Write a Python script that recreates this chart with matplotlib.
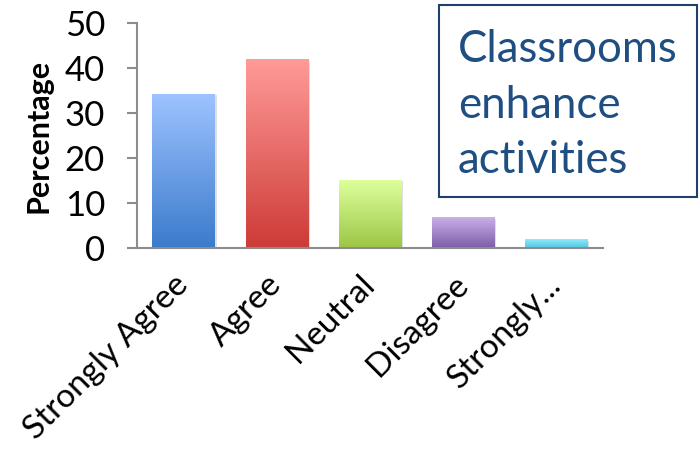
import numpy as np
import matplotlib
matplotlib.use("Agg")
import matplotlib.pyplot as plt
from matplotlib.colors import LinearSegmentedColormap
from matplotlib.patches import Rectangle
from matplotlib.transforms import ScaledTranslation

plt.rcParams['font.family'] = ['Lato', 'DejaVu Sans']

categories = ["Strongly Agree", "Agree", "Neutral", "Disagree", "Strongly..."]
values = [34.2, 41.8, 15.1, 6.7, 1.9]
y_ticks = [0, 10, 20, 30, 40, 50]
# (top colour, bottom colour) for each bar's vertical gradient
bar_colors = [("#9dc3ff", "#3b7bcc"),
              ("#ff9b98", "#cd3b37"),
              ("#ddff9c", "#9cc646"),
              ("#c9b1ea", "#7c5ca8"),
              ("#92e8f8", "#4cc6e6")]
title_text = "Classrooms\nenhance\nactivities"

fig = plt.figure(figsize=(7.0, 4.63), dpi=100)
ax = fig.add_axes([137/700, 1 - 248/463, 466/700, 225/463])

x = np.arange(len(categories))
width = 0.67
bars = ax.bar(x, values, width=width, color="none", edgecolor="none", zorder=2)

grad = np.linspace(0, 1, 256).reshape(-1, 1)
for rect, (top, bottom) in zip(bars, bar_colors):
    x0, y0 = rect.get_x(), rect.get_y()
    w, h = rect.get_width(), rect.get_height()
    cmap = LinearSegmentedColormap.from_list("g", [bottom, top])
    # soft drop shadow under each bar
    ax.add_patch(Rectangle((x0 + 0.02, y0), w, h - 0.3, facecolor="#000000",
                           alpha=0.12, edgecolor="none", zorder=1.5))
    ax.imshow(grad, cmap=cmap, origin="lower", aspect="auto",
              extent=(x0, x0 + w, y0, y0 + h), zorder=2)

ax.set_xlim(-0.5, len(categories) - 0.5)
ax.set_ylim(0, 50)
ax.set_yticks(y_ticks)
ax.set_yticklabels([str(t) for t in y_ticks], fontsize=25)
ax.set_xticks(x)
ax.set_xticklabels(categories, fontsize=24, rotation=45, ha="right",
                   va="center", rotation_mode="anchor")
shift = ScaledTranslation(8 / 100, 0, fig.dpi_scale_trans)
for lbl in ax.get_xticklabels():
    lbl.set_transform(lbl.get_transform() + shift)
ax.tick_params(axis="x", length=0, pad=23)
ax.tick_params(axis="y", length=7, width=1.5, color="#8c8c8c", pad=16)

for side in ("top", "right"):
    ax.spines[side].set_visible(False)
for side in ("left", "bottom"):
    ax.spines[side].set_color("#8c8c8c")
    ax.spines[side].set_linewidth(1.5)

ax.set_ylabel("Percentage", fontsize=22, fontweight="bold", labelpad=9)

# framed annotation in the upper right
fig.patches.append(Rectangle((439/700, 1 - 197/463), 258/700, 192/463,
                             transform=fig.transFigure, facecolor="white",
                             edgecolor="#1f3f6e", linewidth=1.5, zorder=5))
fig.text(458/700, 1 - 105/463, title_text, fontsize=31.5, color="#1f4e82",
         ha="left", va="center", linespacing=1.45, zorder=6)

fig.savefig("out.png", dpi=100)
